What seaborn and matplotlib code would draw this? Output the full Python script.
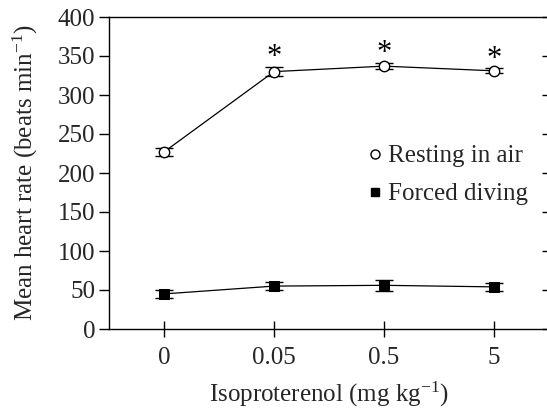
import matplotlib
matplotlib.use("Agg")
import matplotlib.pyplot as plt
import seaborn as sns
import pandas as pd
import numpy as np
from matplotlib.lines import Line2D

doses = ["0", "0.05", "0.5", "5"]
resting_mean = [227, 330, 337, 331]
resting_err = [5, 6, 4, 3]
diving_mean = [45, 55, 56, 54]
diving_err = [5, 5, 7, 5]
significant = [False, True, True, True]

sns.set_theme(style="ticks")
plt.rcParams['font.family'] = ['Liberation Serif', 'DejaVu Serif']
plt.rcParams['mathtext.fontset'] = 'custom'
plt.rcParams['mathtext.rm'] = 'Liberation Serif'
plt.rcParams['mathtext.it'] = 'Liberation Serif:italic'

FS = 18

fig = plt.figure(figsize=(5.47, 4.12), dpi=100)
ax = fig.add_axes([109/547, 1 - 329/412, (549 - 109)/547, (329 - 17)/412])

pos = np.arange(len(doses))
df = pd.DataFrame({
    "pos": np.concatenate([pos, pos]),
    "rate": resting_mean + diving_mean,
    "group": ["Resting in air"] * 4 + ["Forced diving"] * 4,
})

for m, e in [(resting_mean, resting_err), (diving_mean, diving_err)]:
    ax.errorbar(pos, m, yerr=e, fmt="none", ecolor="black", elinewidth=1.0,
                capsize=6.5, capthick=1.0, zorder=2)

sns.lineplot(data=df[df.group == "Resting in air"], x="pos", y="rate", ax=ax,
             color="black", linewidth=0.9, marker="o", markersize=7.5,
             markerfacecolor="white", markeredgecolor="black", markeredgewidth=1.0,
             legend=False, zorder=3)
sns.lineplot(data=df[df.group == "Forced diving"], x="pos", y="rate", ax=ax,
             color="black", linewidth=0.9, marker="s", markersize=7.5,
             markerfacecolor="black", markeredgecolor="black",
             legend=False, zorder=3)

for p, m, e, s in zip(pos, resting_mean, resting_err, significant):
    if s:
        ax.text(p, m + e - 7, "*", ha="center", va="bottom", fontsize=22, color="black")

ax.set_xlim(-0.5, 3.5)
ax.set_ylim(0, 400)
ax.set_xticks(pos)
ax.set_xticklabels(doses)
ax.set_yticks(np.arange(0, 401, 50))
ax.tick_params(axis="x", direction="inout", length=12, width=1.0, labelsize=FS, pad=7, color="black")
ax.tick_params(axis="y", direction="out", length=7, width=1.0, labelsize=FS, pad=3, color="black",
               right=True)
ax.tick_params(axis="y", which="major", labelright=False)
for sp in ["left", "bottom", "top"]:
    ax.spines[sp].set_linewidth(1.0)
    ax.spines[sp].set_color("black")
ax.spines["right"].set_visible(False)
for t in ax.yaxis.get_major_ticks():
    t.tick2line.set_marker(matplotlib.lines.TICKLEFT)
    t.tick2line.set_markersize(5)

ax.set_xlabel("Isoproterenol (mg kg$^{-1}$)", fontsize=FS, labelpad=8)
ax.set_ylabel("Mean heart rate (beats min$^{-1}$)", fontsize=FS, labelpad=13)

handles = [
    Line2D([], [], linestyle="none", marker="o", markersize=6.5, markerfacecolor="white",
           markeredgecolor="black", markeredgewidth=1.0),
    Line2D([], [], linestyle="none", marker="s", markersize=6, markerfacecolor="black",
           markeredgecolor="black"),
]
ax.legend(handles, ["Resting in air", "Forced diving"], frameon=False, fontsize=FS,
          loc="upper left", bbox_to_anchor=(0.558, 0.63), handlelength=0.6,
          handletextpad=0.25, labelspacing=0.62, borderpad=0)

fig.savefig("out.png", dpi=100)
